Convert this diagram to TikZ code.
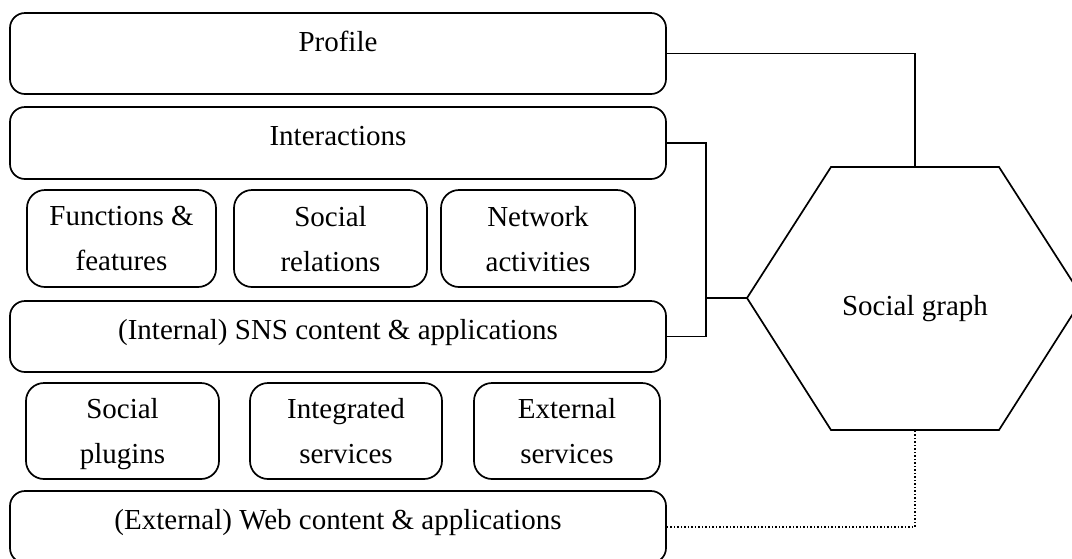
\documentclass[tikz,border=0pt]{standalone}
\usepackage{fontspec}
\setmainfont{Liberation Serif}
\begin{document}
\begin{tikzpicture}[x=1pt,y=-1pt,
  font=\fontsize{29}{45}\selectfont,
  bigbox/.style={draw, line width=1.7pt, rounded corners=15pt, minimum width=656pt, inner sep=0pt},
  smallbox/.style={draw, line width=1.7pt, rounded corners=18pt, align=center, inner sep=0pt, text depth=0pt},
  toplabel/.style={anchor=base, yshift=-39pt},
  conn/.style={line width=1.7pt},
  dotconn/.style={line width=1.5pt, dotted}]
\useasboundingbox (0,0) rectangle (1072,558);
\clip (0,0) rectangle (1072,558);

% big boxes
\node[bigbox, minimum height=81pt, label={[toplabel]north:Profile}] (prof) at (338,53.5) {};
\node[bigbox, minimum height=72pt, label={[toplabel]north:Interactions}] (inter) at (338,143) {};
\node[bigbox, minimum height=71pt, label={[toplabel]north:(Internal) SNS content \& applications}] (sns) at (338,336.5) {};
\node[bigbox, minimum height=72pt, label={[toplabel]north:(External) Web content \& applications}] (web) at (338,527) {};

% small boxes, row 1
\node[smallbox, minimum width=189pt, minimum height=97pt] (func) at (121.5,238.5) {Functions \&\\features};
\node[smallbox, minimum width=193pt, minimum height=97pt] (rel) at (330.5,238.5) {Social\\relations};
\node[smallbox, minimum width=194pt, minimum height=97pt] (act) at (538,238.5) {Network\\activities};

% small boxes, row 2
\node[smallbox, minimum width=193pt, minimum height=96pt] (plug) at (122.5,431) {Social\\plugins};
\node[smallbox, minimum width=192pt, minimum height=96pt] (integ) at (346,431) {Integrated\\services};
\node[smallbox, minimum width=186pt, minimum height=96pt] (ext) at (567,431) {External\\services};

% hexagon
\coordinate (hxL) at (747,298);
\coordinate (hxTL) at (831,167);
\coordinate (hxT) at (915,167);
\coordinate (hxTR) at (999,167);
\coordinate (hxR) at (1083,298);
\coordinate (hxBR) at (999,430);
\coordinate (hxB) at (915,430);
\coordinate (hxBL) at (831,430);
\draw[line width=1.7pt, line join=miter] (hxL) -- (hxTL) -- (hxTR) -- (hxR) -- (hxBR) -- (hxBL) -- cycle;
\node[anchor=base] (sg) at (915,315) {Social graph};

% connectors
\coordinate (jn) at (706,298);
\draw[conn] (prof.east) -| (hxT);
\draw[conn] (inter.east) -| (jn) -- (hxL);
\draw[conn] (sns.east) -| (jn);
\draw[dotconn] (web.east) -| (hxB);
\end{tikzpicture}
\end{document}
